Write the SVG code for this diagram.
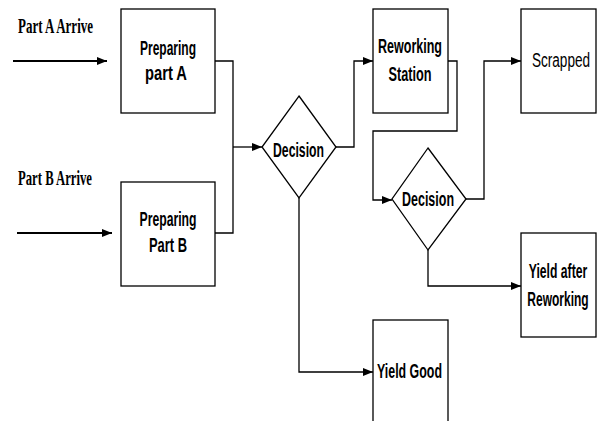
<svg xmlns="http://www.w3.org/2000/svg" width="597" height="421" viewBox="0 0 597 421">
<style>
.box{fill:#fff;stroke:#000;stroke-width:1.3}
.lbl{font-family:"Liberation Sans",Arial,sans-serif;font-weight:bold;font-size:20px;fill:#000;text-anchor:middle}
.reg{font-weight:normal}
.ser{font-family:"Liberation Serif","Times New Roman",serif;font-weight:bold;font-size:22px;fill:#000}
.con{fill:none;stroke:#000;stroke-width:1.3}
.thick{stroke-width:2}
</style>
<defs>
<marker id="ah" markerUnits="userSpaceOnUse" markerWidth="10" markerHeight="10" refX="10" refY="5" orient="auto">
<path d="M0,1 L10,5 L0,9 z" fill="#000"/>
</marker>
</defs>
<rect width="597" height="421" fill="#fff"/>
<g id="connectors">
<path class="con thick" d="M13,61 H107" marker-end="url(#ah)"/>
<path class="con thick" d="M17,233 H112" marker-end="url(#ah)"/>
<path class="con" d="M215,61 H233 V233 H215"/>
<path class="con" d="M233,147 H262" marker-end="url(#ah)"/>
<path class="con" d="M336,147 H354 V61 H373" marker-end="url(#ah)"/>
<path class="con" d="M448,61 H457 V131 H373 V200 H392" marker-end="url(#ah)"/>
<path class="con" d="M466,199 H484 V61 H521" marker-end="url(#ah)"/>
<path class="con" d="M428,250 V286 H521" marker-end="url(#ah)"/>
<path class="con" d="M299,198 V372 H373" marker-end="url(#ah)"/>
</g>
<g id="partA-label"><text class="ser" x="18" y="33" textLength="75" lengthAdjust="spacingAndGlyphs">Part A Arrive</text></g>
<g id="partB-label"><text class="ser" x="18" y="185" textLength="74" lengthAdjust="spacingAndGlyphs">Part B Arrive</text></g>
<g id="prepA">
<rect class="box" x="121" y="9" width="94" height="104"/>
<text class="lbl" x="168" y="55" textLength="56" lengthAdjust="spacingAndGlyphs">Preparing</text>
<text class="lbl" x="166" y="80" textLength="42" lengthAdjust="spacingAndGlyphs">part A</text>
</g>
<g id="prepB">
<rect class="box" x="121" y="182" width="94" height="104"/>
<text class="lbl" x="168" y="226" textLength="57" lengthAdjust="spacingAndGlyphs">Preparing</text>
<text class="lbl" x="168" y="252" textLength="38" lengthAdjust="spacingAndGlyphs">Part B</text>
</g>
<g id="decision1">
<polygon class="box" points="299,96 336,147 299,198 262,147"/>
<text class="lbl" x="298.5" y="157" textLength="51" lengthAdjust="spacingAndGlyphs">Decision</text>
</g>
<g id="rework">
<rect class="box" x="373" y="9" width="75" height="104"/>
<text class="lbl" x="410" y="53" textLength="64" lengthAdjust="spacingAndGlyphs">Reworking</text>
<text class="lbl" x="410" y="81" textLength="43" lengthAdjust="spacingAndGlyphs">Station</text>
</g>
<g id="decision2">
<polygon class="box" points="428,148 466,199 428,250 392,199"/>
<text class="lbl" x="428" y="206" textLength="52" lengthAdjust="spacingAndGlyphs">Decision</text>
</g>
<g id="scrapped">
<rect class="box" x="521" y="9" width="75" height="104"/>
<text class="lbl reg" transform="translate(561,67) scale(0.68,1)" x="0" y="0">Scrapped</text>
</g>
<g id="yieldAfter">
<rect class="box" x="521" y="233" width="75" height="104"/>
<text class="lbl" transform="translate(558,278) scale(0.61,1)" x="0" y="0">Yield after</text>
<text class="lbl" transform="translate(558,306) scale(0.6,1)" x="0" y="0">Reworking</text>
</g>
<g id="yieldGood">
<rect class="box" x="373" y="320" width="75" height="106"/>
<text class="lbl" x="409.5" y="378" textLength="65" lengthAdjust="spacingAndGlyphs">Yield Good</text>
</g>
</svg>
